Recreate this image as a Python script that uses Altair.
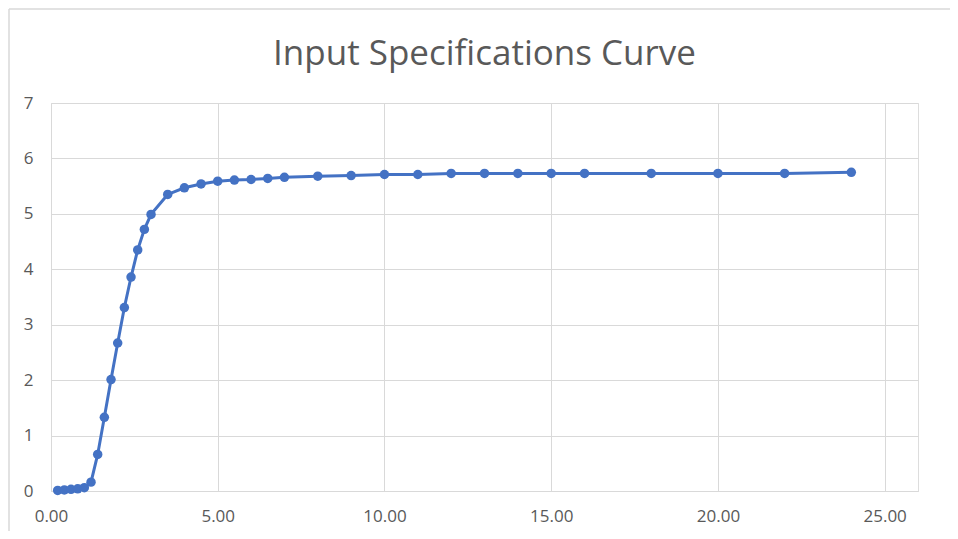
import altair as alt
import pandas as pd

x_vals = [0.2, 0.4, 0.6, 0.8, 1.0, 1.2, 1.4, 1.6, 1.8, 2.0, 2.2, 2.4, 2.6, 2.8, 3.0,
          3.5, 4.0, 4.5, 5.0, 5.5, 6.0, 6.5, 7.0, 8.0, 9.0, 10.0, 11.0, 12.0, 13.0,
          14.0, 15.0, 16.0, 18.0, 20.0, 22.0, 24.0]
y_vals = [0.01, 0.02, 0.03, 0.04, 0.06, 0.16, 0.66, 1.33, 2.01, 2.67, 3.31, 3.86, 4.35, 4.72, 4.99,
          5.35, 5.47, 5.54, 5.59, 5.61, 5.62, 5.64, 5.66, 5.68, 5.69, 5.71, 5.71, 5.73, 5.73,
          5.73, 5.73, 5.73, 5.73, 5.73, 5.73, 5.75]
x_ticks = [0, 5, 10, 15, 20, 25]
y_ticks = [0, 1, 2, 3, 4, 5, 6, 7]

df = pd.DataFrame({"x": x_vals, "y": y_vals})

BLUE = "#4472C4"
TXT = "#595959"
GRID = "#d9d9d9"

x_enc = alt.X("x:Q", scale=alt.Scale(domain=[0, 26], nice=False, zero=False),
              axis=alt.Axis(values=x_ticks, format=".2f", title=None, ticks=False,
                            labelFont="Open Sans", labelFontSize=17, labelColor=TXT,
                            labelFlush=False, labelPadding=17, domainColor=GRID, domainWidth=1,
                            gridColor=GRID, grid=True))
y_enc = alt.Y("y:Q", scale=alt.Scale(domain=[0, 7], nice=False),
              axis=alt.Axis(values=y_ticks, format="d", title=None, ticks=False, domain=False,
                            labelFont="Open Sans", labelFontSize=17, labelColor=TXT,
                            labelPadding=18, gridColor=GRID, grid=True))

one = pd.DataFrame({"a": [0]})
border_top = alt.Chart(one).mark_rule(stroke=GRID, strokeWidth=1.5).encode(
    x=alt.value(-42), x2=alt.value(960), y=alt.value(-94))
border_left = alt.Chart(one).mark_rule(stroke=GRID, strokeWidth=1.5).encode(
    x=alt.value(-42), y=alt.value(-94), y2=alt.value(500))

base = alt.Chart(df)
line = base.mark_line(color=BLUE, strokeWidth=3).encode(x=x_enc, y=y_enc)
points = base.mark_circle(size=90, color=BLUE, opacity=1).encode(x="x:Q", y="y:Q")

chart = alt.layer(border_top, border_left, line, points).properties(
    width=867, height=388,
    title=alt.TitleParams("Input Specifications Curve", font="Open Sans", fontSize=35,
                          fontWeight="normal", color=TXT, anchor="middle", offset=-64),
    autosize=alt.AutoSizeParams(type="none"),
    padding={"left": 43, "top": 95, "right": 32, "bottom": 40},
).configure_view(stroke=None).configure(background="white")

chart.save("out.html", embed_options={"renderer": "svg", "actions": False})
